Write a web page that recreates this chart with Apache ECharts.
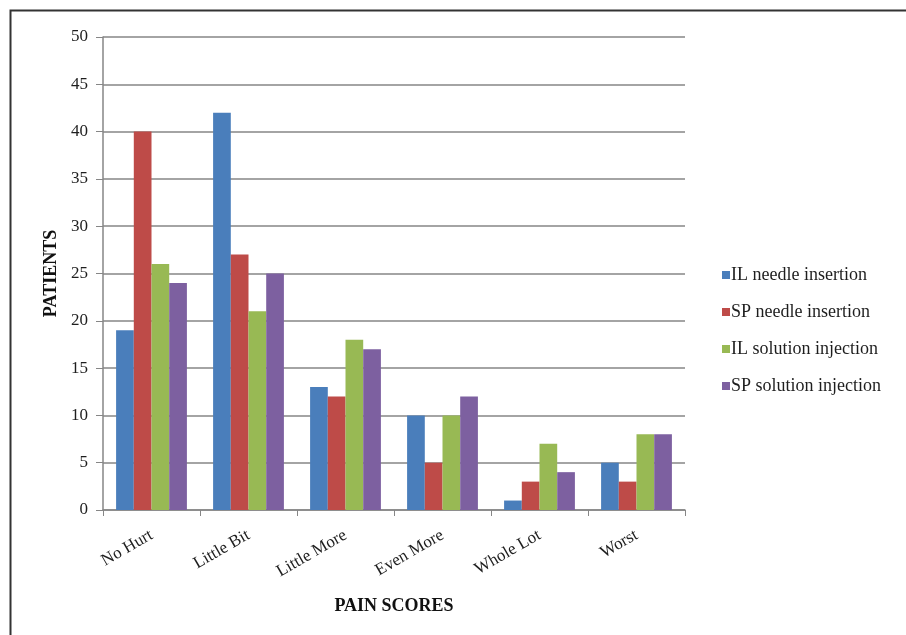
<!DOCTYPE html>
<html>
<head>
<meta charset="utf-8">
<script src="https://cdn.jsdelivr.net/npm/echarts@6/dist/echarts.min.js"></script>
<style>
  html, body { margin: 0; padding: 0; background: #fff; }
  #chart { width: 906px; height: 635px; }
</style>
</head>
<body>
<div id="chart"></div>
<script>
// Pain score categories
const categories = ['No Hurt', 'Little Bit', 'Little More', 'Even More', 'Whole Lot', 'Worst'];

// Number of patients per pain score
const ilNeedleInsertion = [19, 42, 13, 10, 1, 5];
const spNeedleInsertion = [40, 27, 12, 5, 3, 3];
const ilSolutionInjection = [26, 21, 18, 10, 7, 8];
const spSolutionInjection = [24, 25, 17, 12, 4, 8];

const seriesNames = ['IL needle insertion', 'SP needle insertion', 'IL solution injection', 'SP solution injection'];
const seriesValues = [ilNeedleInsertion, spNeedleInsertion, ilSolutionInjection, spSolutionInjection];
const colors = ['#4a7ebb', '#be4b48', '#98b954', '#7d60a0'];

const serif = '"Liberation Serif", "DejaVu Serif", serif';
const textColor = '#1e1e1e';

const chart = echarts.init(document.getElementById('chart'));
chart.setOption({
  animation: false,
  color: colors,
  grid: { left: 103, right: 221, top: 37, bottom: 125, containLabel: false },
  graphic: [{
    type: 'rect',
    shape: { x: 10.5, y: 10.5, width: 900, height: 640 },
    style: { fill: 'none', stroke: '#333', lineWidth: 2 },
    silent: true
  }],
  legend: {
    orient: 'vertical',
    left: 717,
    top: 261,
    itemWidth: 8,
    itemHeight: 8,
    itemGap: 19,
    icon: 'rect',
    textStyle: { fontFamily: serif, fontSize: 18, color: textColor, padding: [0, 0, 0, -4] },
    data: seriesNames
  },
  xAxis: {
    type: 'category',
    data: categories,
    name: 'PAIN SCORES',
    nameLocation: 'middle',
    nameGap: 87,
    nameTextStyle: { fontFamily: serif, fontSize: 18, fontWeight: 'bold', color: '#111' },
    axisLine: { lineStyle: { color: '#868686', width: 1.5 } },
    axisTick: { show: true, alignWithLabel: false, length: 6, lineStyle: { color: '#868686' } },
    axisLabel: {
      rotate: 30,
      interval: 0,
      margin: 24,
      fontFamily: serif,
      fontSize: 17,
      color: textColor
    }
  },
  yAxis: {
    type: 'value',
    min: 0,
    max: 50,
    interval: 5,
    name: 'PATIENTS',
    nameLocation: 'middle',
    nameGap: 43,
    nameRotate: 90,
    nameTextStyle: { fontFamily: serif, fontSize: 18, fontWeight: 'bold', color: '#111' },
    axisLine: { show: true, lineStyle: { color: '#868686', width: 1.5 } },
    axisTick: { show: true, inside: false, length: 7, lineStyle: { color: '#868686' } },
    splitLine: { show: true, lineStyle: { color: '#868686', width: 1.5 } },
    axisLabel: { margin: 15, fontFamily: serif, fontSize: 17, color: textColor }
  },
  series: seriesNames.map((name, i) => ({
    name: name,
    type: 'bar',
    data: seriesValues[i],
    barGap: '0%',
    barCategoryGap: '27%'
  }))
});
</script>
</body>
</html>
